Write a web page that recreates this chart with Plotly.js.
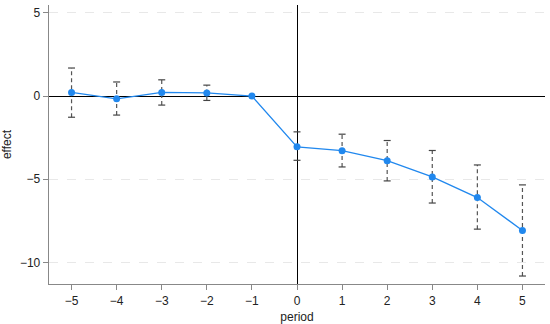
<!DOCTYPE html>
<html>
<head>
<meta charset="utf-8">
<script src="https://cdn.plot.ly/plotly-3.0.1.min.js"></script>
<style>html,body{margin:0;padding:0;background:#fff;}#chart{width:550px;height:324px;}</style>
</head>
<body>
<div id="chart"></div>
<script>
var periods = [-5, -4, -3, -2, -1, 0, 1, 2, 3, 4, 5];
var effect  = [0.22, -0.16, 0.22, 0.19, 0.0, -3.05, -3.28, -3.88, -4.86, -6.10, -8.08];
var ciLow   = [-1.27, -1.14, -0.54, -0.26, null, -3.86, -4.26, -5.10, -6.43, -8.00, -10.82];
var ciHigh  = [1.69, 0.85, 0.98, 0.66, null, -2.15, -2.29, -2.67, -3.27, -4.14, -5.34];
var yTicks  = [-10, -5, 0, 5];
var xTicks  = periods;

var ciX = [], ciY = [], capX = [], capY = [];
for (var i = 0; i < periods.length; i++) {
  if (ciLow[i] === null) continue;
  if (periods[i] !== 0) {
    ciX.push(periods[i], periods[i], null);
    ciY.push(ciLow[i], ciHigh[i], null);
  }
  capX.push(periods[i], periods[i]);
  capY.push(ciLow[i], ciHigh[i]);
}

var traces = [
  {x: ciX, y: ciY, mode: 'lines', type: 'scatter', hoverinfo: 'skip',
   line: {color: '#555555', width: 1.2, dash: '4px,3px'}, showlegend: false},
  {x: capX, y: capY, mode: 'markers', type: 'scatter', hoverinfo: 'skip',
   marker: {symbol: 'line-ew', size: 5, line: {color: '#444444', width: 1.2}}, showlegend: false},
  {x: periods, y: effect, mode: 'lines+markers', type: 'scatter',
   line: {color: '#2188ee', width: 1.3},
   marker: {color: '#2188ee', size: 7}, showlegend: false}
];

var layout = {
  width: 550, height: 324,
  margin: {l: 49, r: 5, t: 5, b: 40},
  paper_bgcolor: '#ffffff', plot_bgcolor: '#ffffff',
  font: {family: 'Liberation Sans, Arial, sans-serif', size: 12, color: '#222222'},
  xaxis: {
    range: [-5.5, 5.5], tickvals: xTicks, ticktext: xTicks.map(function(v){return v < 0 ? '\u2212' + Math.abs(v) : String(v);}),
    showgrid: false, zeroline: true, zerolinecolor: '#000000', zerolinewidth: 1,
    showline: true, linecolor: '#888888', linewidth: 1.3,
    ticks: 'outside', ticklen: 5, tickcolor: '#888888',
    title: {text: 'period', font: {size: 12}, standoff: 6}
  },
  yaxis: {
    range: [-11.3, 5.48], tickvals: yTicks, ticktext: yTicks.map(function(v){return v < 0 ? '\u2212' + Math.abs(v) : String(v);}),
    showgrid: true, gridcolor: '#e8e8e8', griddash: 'dash', gridwidth: 1,
    zeroline: true, zerolinecolor: '#000000', zerolinewidth: 1.2,
    showline: true, linecolor: '#888888', linewidth: 1.3,
    ticks: 'outside', ticklen: 5, tickcolor: '#888888',
    title: {text: 'effect', font: {size: 12}, standoff: 8}
  }
};

Plotly.newPlot('chart', traces, layout, {displayModeBar: false, staticPlot: true});
</script>
</body>
</html>
